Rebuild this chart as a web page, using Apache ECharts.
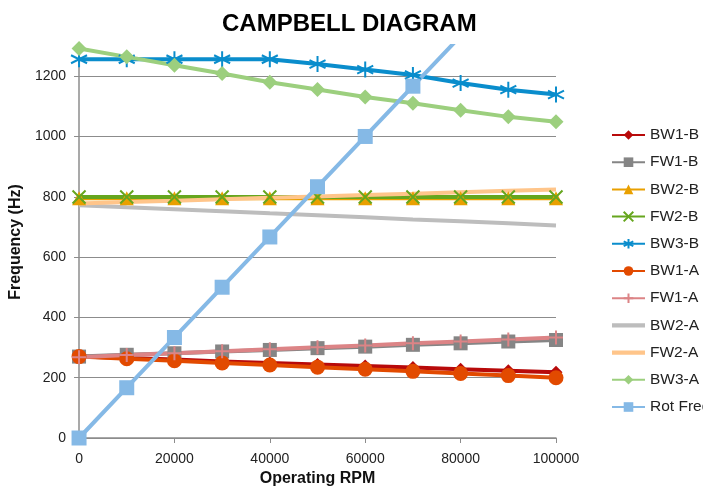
<!DOCTYPE html>
<html>
<head>
<meta charset="utf-8">
<script src="https://cdn.jsdelivr.net/npm/echarts@6/dist/echarts.min.js"></script>
<style>
html,body{margin:0;padding:0;background:#fff;}
#chart{width:703px;height:492px;}
</style>
</head>
<body>
<div id="chart"></div>
<script>
// rpm on x, frequency (Hz) on y
var rpm = [0,10000,20000,30000,40000,50000,60000,70000,80000,90000,100000];
var yTicks = [0,200,400,600,800,1000,1200];

var bw1B = [270,265,260,254,249,244,239,234,228,223,218];
var fw1B = [270,276,281,287,292,298,303,309,314,320,325];
var bw2B = [795,795,795,795,795,795,795,795,795,795,795];
var fw2B = [799,799,799,799,799,799,799,799,799,799,799];
var bw3B = [1256,1256,1256,1256,1256,1240,1222,1204,1177,1155,1139];
var bw1A = [270,263,256,249,242,235,228,221,214,207,200];
var fw1A = [268,275,281,288,294,301,307,314,320,327,333];
var bw2A = [772,765,759,752,745,739,732,725,719,712,705];
var fw2A = [778,783,787,792,797,801,806,810,815,820,824];
var bw3A = [1292,1264,1236,1209,1180,1156,1131,1110,1087,1065,1049];
var rotFreq = [0,166.7,333.3,500,666.7,833.3,1000,1166.7,1333.3,1500,1666.7];

var xSym = 'path://M0,0L10,10M10,0L0,10';
var starSym = 'path://M5,0L5,10M0.7,2.5L9.3,7.5M0.7,7.5L9.3,2.5';
var plusSym = 'path://M5,0L5,10M0,5L10,5';
var lineIcon = 'path://M0,0L32,0L32,4L0,4Z';

function pairs(arr){
    var out = [];
    for(var i=0;i<rpm.length;i++){
        out.push([rpm[i], arr[i]]);
    }
    return out;
}

function mk(name, arr, color, symbol, size, stroke){
    var s = {
        name: name,
        type: 'line',
        data: pairs(arr),
        symbol: symbol,
        symbolSize: size,
        showSymbol: symbol !== 'none',
        lineStyle: {color: color, width: 4},
        itemStyle: {color: color},
        emphasis: {disabled: true},
        animation: false
    };
    if(stroke){
        s.itemStyle = {color: color, borderColor: color, borderWidth: 2};
    }
    return s;
}

var chart = echarts.init(document.getElementById('chart'));
chart.setOption({
    backgroundColor: '#fff',
    textStyle: {fontFamily: 'Liberation Sans, Arial, sans-serif'},
    title: {
        text: 'CAMPBELL DIAGRAM',
        left: 217,
        top: 7,
        textStyle: {fontSize: 24, fontWeight: 'bold', color: '#000', fontFamily: 'Liberation Sans, Arial, sans-serif'}
    },
    legend: {
        orient: 'vertical',
        left: 606,
        top: 122,
        itemWidth: 33,
        itemHeight: 12,
        itemGap: 11.2,
        textStyle: {fontSize: 15.5, color: '#222', fontFamily: 'Liberation Sans, Arial, sans-serif'},
        data: ['BW1-B','FW1-B','BW2-B','FW2-B','BW3-B','BW1-A','FW1-A',
            {name: 'BW2-A', icon: lineIcon},
            {name: 'FW2-A', icon: lineIcon},
            'BW3-A','Rot Freq']
    },
    grid: {left: 79, right: 147, top: 46, bottom: 54},
    xAxis: {
        type: 'value',
        min: rpm[0],
        max: rpm[rpm.length-1],
        interval: 20000,
        name: 'Operating RPM',
        nameLocation: 'middle',
        nameGap: 33,
        nameTextStyle: {fontSize: 16, fontWeight: 'bold', color: '#111', verticalAlign: 'top'},
        axisLine: {lineStyle: {color: '#8c8c8c', width: 1.5}},
        axisTick: {show: true, length: 5, lineStyle: {color: '#8c8c8c'}},
        axisLabel: {fontSize: 14, color: '#222', margin: 14, formatter: function(v){ return String(v); }},
        splitLine: {show: false}
    },
    yAxis: {
        type: 'value',
        min: yTicks[0],
        max: 1300,
        interval: 200,
        name: 'Frequency (Hz)',
        nameLocation: 'middle',
        nameGap: 49,
        nameTextStyle: {fontSize: 16, fontWeight: 'bold', color: '#111'},
        axisLine: {show: true, lineStyle: {color: '#8c8c8c', width: 1.5}},
        axisTick: {show: true, length: 5, lineStyle: {color: '#8c8c8c'}},
        axisLabel: {fontSize: 14, color: '#222', margin: 13, showMaxLabel: false, formatter: function(v){ return String(v); }},
        splitLine: {show: true, showMaxLine: false, lineStyle: {color: '#8c8c8c', width: 1}}
    },
    series: [
        mk('BW1-B', bw1B, '#b80a0a', 'diamond', 13),
        mk('FW1-B', fw1B, '#858585', 'rect', 14),
        mk('BW2-B', bw2B, '#e9a000', 'triangle', 14),
        mk('FW2-B', fw2B, '#66a61e', xSym, 13, true),
        mk('BW3-B', bw3B, '#0a8dcc', starSym, 16, true),
        mk('BW1-A', bw1A, '#e24a00', 'circle', 15),
        mk('FW1-A', fw1A, '#dc8486', plusSym, 14, true),
        mk('BW2-A', bw2A, '#bdbdbd', 'none', 0),
        mk('FW2-A', fw2A, '#ffc58a', 'none', 0),
        mk('BW3-A', bw3A, '#9ccf7e', 'diamond', 15),
        mk('Rot Freq', rotFreq, '#85b9e6', 'rect', 15)
    ]
});
</script>
</body>
</html>
